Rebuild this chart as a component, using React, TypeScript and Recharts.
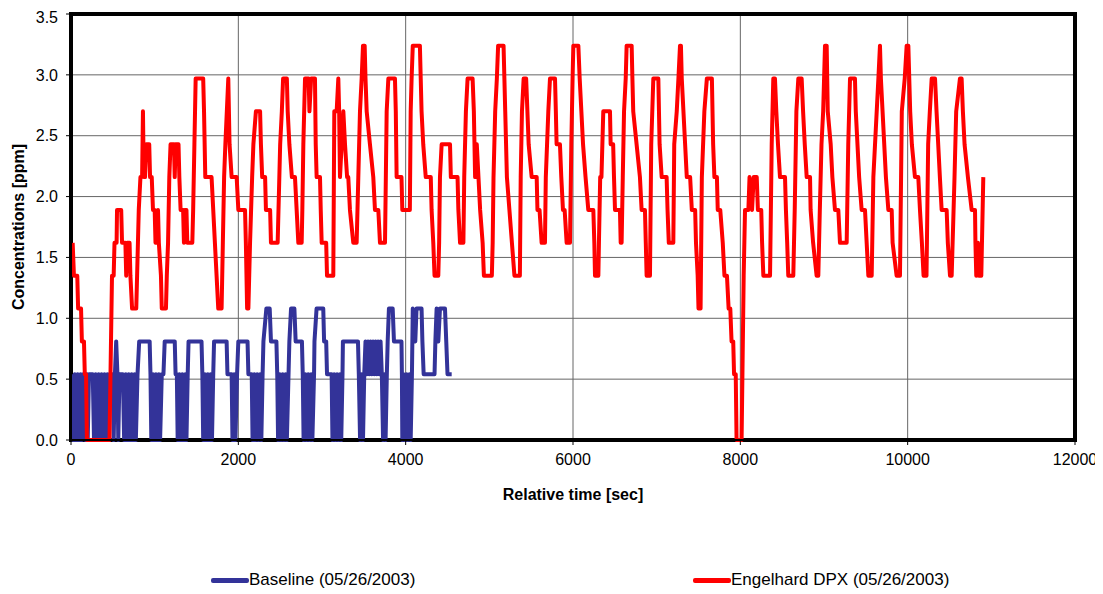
import React from "react";
import { LineChart, Line, XAxis, YAxis, CartesianGrid, ReferenceArea, Label } from "recharts";

const xTicks = [0, 2000, 4000, 6000, 8000, 10000, 12000];
const yTicks = [0, 0.5, 1, 1.5, 2, 2.5, 3, 3.5];

const baselineLabel = "Baseline (05/26/2003)";
const engelhardLabel = "Engelhard DPX (05/26/2003)";

// [relative time (sec), concentration (ppm)]
const baselineSeries: [number, number][] = [
  [10,0.54],[25,0],[45,0.54],[60,0],[80,0.54],[95,0],[115,0.54],[130,0],[145,0.54],[165,0.54],[175,0],[190,0.54],[200,0],[215,0.54],
  [260,0.54],[275,0],[295,0.54],[310,0],[330,0.54],[345,0],[365,0.54],[380,0],[400,0.54],[415,0],[435,0.54],[445,0],[460,0.54],
  [500,0.54],[510,0],[525,0.54],[540,0.81],[555,0.54],[565,0],[580,0.54],[620,0.54],[635,0],[655,0.54],[670,0],[690,0.54],[705,0],
  [725,0.54],[740,0],[760,0.54],[775,0],[795,0.54],[815,0.81],[940,0.81],[950,0.54],[960,0],[980,0.54],[995,0],[1015,0.54],[1030,0],
  [1050,0.54],[1065,0],[1085,0.54],[1105,0.54],[1120,0.81],[1240,0.81],[1250,0.54],[1265,0.54],[1275,0],[1295,0.54],[1310,0],
  [1330,0.54],[1345,0],[1365,0.54],[1380,0],[1395,0.54],[1405,0.81],[1560,0.81],[1570,0.54],[1580,0],[1600,0.54],[1615,0],
  [1635,0.54],[1650,0],[1670,0.54],[1685,0],[1700,0.54],[1710,0.81],[1860,0.81],[1870,0.54],[1920,0.54],[1930,0],[1950,0.54],
  [1965,0],[1985,0.54],[2000,0.81],[2110,0.81],[2120,0.54],[2160,0.54],[2170,0],[2190,0.54],[2205,0],[2225,0.54],[2240,0],
  [2260,0.54],[2275,0],[2290,0.54],[2300,0.81],[2335,1.08],[2375,1.08],[2390,0.81],[2455,0.81],[2465,0.54],[2475,0],[2495,0.54],
  [2510,0],[2530,0.54],[2545,0],[2565,0.54],[2580,0],[2600,0.54],[2610,0.81],[2630,1.08],[2670,1.08],[2685,0.81],[2760,0.81],
  [2770,0.54],[2780,0],[2800,0.54],[2815,0],[2835,0.54],[2850,0],[2870,0.54],[2885,0],[2905,0.54],[2910,0.81],[2935,1.08],
  [3015,1.08],[3025,0.81],[3050,0.81],[3060,0.54],[3115,0.54],[3125,0],[3145,0.54],[3160,0],[3180,0.54],[3195,0],[3215,0.54],
  [3230,0],[3245,0.54],[3250,0.81],[3430,0.81],[3440,0.54],[3455,0],[3475,0.54],[3490,0],[3505,0.54],[3520,0.81],[3535,0.54],
  [3550,0.81],[3565,0.54],[3580,0.81],[3595,0.54],[3610,0.81],[3625,0.54],[3640,0.81],[3655,0.54],[3670,0.81],[3685,0.54],
  [3700,0.81],[3715,0.54],[3730,0],[3745,0.54],[3760,0],[3775,0.54],[3785,0.81],[3800,1.08],[3845,1.08],[3860,0.81],[3950,0.81],
  [3955,0.54],[3960,0],[3975,0.54],[3990,0],[4010,0.54],[4025,0],[4045,0.54],[4060,0],[4075,0.54],[4085,1.08],[4115,0.81],
  [4130,1.08],[4190,1.08],[4200,0.81],[4215,0.54],[4345,0.54],[4355,0.81],[4370,1.08],[4390,0.81],[4410,1.08],[4470,1.08],
  [4485,0.81],[4500,0.54],[4550,0.54],
];

const engelhardSeries: [number, number][] = [
  [20,1.62],[35,1.35],[75,1.35],[85,1.08],[120,1.08],[130,0.81],[155,0.81],[165,0.54],[180,0.54],[190,0],[460,0],
  [490,1.35],[510,1.35],[520,1.62],[545,1.62],[550,1.89],[600,1.89],[610,1.62],[650,1.62],[660,1.35],[670,1.62],[700,1.62],
  [710,1.35],[730,1.08],[780,1.08],[790,1.35],[800,1.62],[810,1.89],[830,2.16],[850,2.16],[860,2.7],[870,2.16],[885,2.16],
  [900,2.43],[935,2.43],[945,2.16],[965,2.16],[980,1.89],[1000,1.89],[1010,1.62],[1030,1.62],[1040,1.89],[1050,1.62],[1075,1.35],
  [1085,1.08],[1135,1.08],[1145,1.35],[1160,1.62],[1175,2.16],[1190,2.43],[1230,2.43],[1240,2.16],[1250,2.43],[1285,2.43],
  [1295,2.16],[1310,1.89],[1340,1.89],[1350,1.62],[1360,1.89],[1380,1.89],[1390,1.62],[1450,1.62],[1460,1.89],[1475,2.43],
  [1490,2.97],[1580,2.97],[1590,2.7],[1605,2.16],[1680,2.16],[1700,1.89],[1720,1.62],[1740,1.35],[1760,1.08],[1800,1.08],
  [1815,1.62],[1830,2.16],[1845,2.43],[1880,2.97],[1895,2.43],[1920,2.16],[1980,2.16],[2000,1.89],[2080,1.89],[2090,1.62],
  [2105,1.08],[2120,1.08],[2140,1.62],[2165,2.16],[2180,2.43],[2210,2.7],[2260,2.7],[2270,2.43],[2285,2.16],[2320,2.16],
  [2330,1.89],[2380,1.89],[2390,1.62],[2470,1.62],[2480,1.89],[2500,2.43],[2520,2.7],[2535,2.97],[2580,2.97],[2590,2.7],
  [2610,2.43],[2640,2.16],[2677,2.16],[2697,1.89],[2717,1.62],[2757,1.62],[2765,1.89],[2777,2.43],[2797,2.97],[2840,2.97],
  [2850,2.7],[2870,2.97],[2916,2.97],[2925,2.43],[2936,2.16],[2976,2.16],[2985,1.89],[2996,1.62],[3050,1.62],[3060,1.35],
  [3135,1.35],[3147,2.7],[3175,2.7],[3195,2.97],[3205,2.7],[3215,2.16],[3235,2.43],[3255,2.7],[3275,2.43],[3300,2.16],
  [3314,2.16],[3334,1.89],[3374,1.62],[3414,1.62],[3434,2.16],[3454,2.7],[3474,2.97],[3490,3.24],[3510,3.24],[3520,2.97],
  [3534,2.7],[3573,2.43],[3613,2.16],[3633,1.89],[3673,1.89],[3693,1.62],[3753,1.62],[3773,2.7],[3793,2.97],[3872,2.97],
  [3882,2.7],[3892,2.16],[3950,2.16],[3960,1.89],[4050,1.89],[4060,2.7],[4071,2.97],[4085,3.24],[4170,3.24],[4180,2.97],
  [4190,2.7],[4210,2.43],[4240,2.16],[4300,2.16],[4310,1.89],[4330,1.62],[4345,1.35],[4390,1.35],[4400,1.62],[4410,2.16],
  [4430,2.43],[4530,2.43],[4540,2.16],[4620,2.16],[4630,1.89],[4650,1.62],[4690,1.62],[4700,2.16],[4720,2.7],[4740,2.97],
  [4800,2.97],[4815,2.7],[4830,2.16],[4850,2.43],[4870,2.16],[4890,1.89],[4920,1.62],[4935,1.35],[5030,1.35],[5040,1.62],
  [5050,2.16],[5070,2.7],[5090,2.97],[5105,3.24],[5170,3.24],[5180,2.97],[5190,2.7],[5210,2.16],[5240,1.89],[5270,1.62],
  [5300,1.35],[5365,1.35],[5375,2.16],[5390,2.7],[5410,2.97],[5440,2.97],[5455,2.7],[5470,2.43],[5506,2.16],[5566,2.16],
  [5575,1.89],[5600,1.89],[5625,1.62],[5665,1.62],[5675,2.16],[5705,2.7],[5725,2.97],[5785,2.97],[5795,2.7],[5804,2.43],
  [5844,2.43],[5860,2.16],[5880,1.89],[5900,1.89],[5924,1.62],[5964,1.62],[5980,2.43],[5995,2.97],[6004,3.24],[6064,3.24],
  [6080,2.97],[6100,2.7],[6120,2.43],[6150,2.16],[6183,1.89],[6243,1.89],[6255,1.62],[6263,1.35],[6303,1.35],[6310,1.62],
  [6325,2.16],[6340,2.16],[6362,2.7],[6442,2.7],[6450,2.43],[6480,2.43],[6490,2.16],[6502,1.89],[6561,1.89],[6570,1.62],
  [6581,1.62],[6595,2.16],[6610,2.7],[6630,2.97],[6641,3.24],[6701,3.24],[6710,2.97],[6720,2.7],[6760,2.43],[6800,2.16],
  [6820,1.89],[6860,1.89],[6870,1.62],[6880,1.35],[6920,1.35],[6935,2.43],[6960,2.97],[7020,2.97],[7035,2.43],[7060,2.16],
  [7119,2.16],[7130,1.89],[7145,1.62],[7199,1.62],[7210,2.43],[7240,2.7],[7260,2.97],[7279,3.24],[7290,3.24],[7300,2.97],
  [7320,2.7],[7340,2.43],[7360,2.16],[7400,2.16],[7420,1.89],[7460,1.89],[7470,1.62],[7490,1.35],[7500,1.08],[7525,1.08],
  [7540,2.16],[7570,2.7],[7600,2.97],[7660,2.97],[7675,2.43],[7690,2.16],[7720,2.16],[7730,1.89],[7760,1.89],[7790,1.62],
  [7810,1.35],[7840,1.35],[7860,1.08],[7880,1.08],[7895,0.81],[7915,0.81],[7925,0.54],[7945,0.54],[7955,0],[8015,0],
  [8040,1.35],[8056,1.89],[8096,1.89],[8110,2.16],[8140,1.89],[8160,2.16],[8196,2.16],[8210,1.89],[8250,1.89],[8260,1.62],
  [8275,1.35],[8355,1.35],[8365,1.89],[8375,2.43],[8394,2.97],[8414,2.97],[8430,2.7],[8450,2.43],[8474,2.16],[8534,2.16],
  [8545,1.89],[8560,1.62],[8573,1.35],[8633,1.35],[8650,1.89],[8670,2.7],[8693,2.97],[8733,2.97],[8750,2.7],[8770,2.43],
  [8793,2.16],[8833,2.16],[8840,1.89],[8870,1.62],[8912,1.35],[8932,1.35],[8950,1.89],[8970,2.43],[8990,2.7],[9012,3.24],
  [9032,3.24],[9045,2.7],[9080,2.43],[9100,2.16],[9131,1.89],[9171,1.89],[9191,1.62],[9271,1.62],[9290,2.43],[9311,2.97],
  [9370,2.97],[9380,2.7],[9420,2.16],[9450,1.89],[9490,1.89],[9510,1.62],[9530,1.35],[9570,1.35],[9590,2.16],[9630,2.7],
  [9650,2.97],[9669,3.24],[9680,2.97],[9700,2.7],[9740,2.16],[9769,1.89],[9809,1.89],[9820,1.62],[9868,1.35],[9908,1.35],
  [9930,2.7],[9965,2.97],[9988,3.24],[10008,3.24],[10030,2.7],[10050,2.43],[10087,2.16],[10127,2.16],[10147,1.89],[10170,1.62],
  [10190,1.35],[10225,1.35],[10245,2.43],[10265,2.7],[10287,2.97],[10327,2.97],[10345,2.7],[10365,2.43],[10385,2.16],
  [10406,1.89],[10466,1.89],[10480,1.62],[10506,1.35],[10526,1.35],[10560,2.16],[10580,2.7],[10625,2.97],[10645,2.97],
  [10660,2.7],[10680,2.43],[10720,2.16],[10765,1.89],[10805,1.89],[10810,1.62],[10820,1.35],[10840,1.62],[10850,1.35],
  [10880,1.35],[10904,2.16],
];

const BLUE = "#333399";
const RED = "#FF0000";
const FONT = "'Liberation Sans', Arial, sans-serif";

const toRows = (s: [number, number][]) => s.map(([t, v]) => ({ t, v }));

export default function App() {
  const blueRows = toRows(baselineSeries);
  const redRows = toRows(engelhardSeries);
  const tickStyle = { fontSize: 16, fill: "#000", fontFamily: FONT };
  return (
    <div style={{ position: "relative", width: 1095, height: 586, fontFamily: FONT }}>
      <LineChart width={1095} height={586} margin={{ top: 6, right: 28, left: 0, bottom: 94 }}>
        <CartesianGrid stroke="#666" strokeWidth={1} />
        <XAxis
          type="number"
          dataKey="t"
          domain={[0, 12000]}
          ticks={xTicks}
          allowDataOverflow
          height={60}
          tick={tickStyle}
          tickSize={5}
          tickMargin={9}
          axisLine={{ stroke: "#000", strokeWidth: 2 }}
          tickLine={{ stroke: "#000" }}
        >
          <Label value="Relative time [sec]" position="insideBottom" offset={0}
            style={{ fontSize: 16, fontWeight: "bold", fill: "#000", fontFamily: FONT }} />
        </XAxis>
        <YAxis
          type="number"
          domain={[0, 3.5]}
          ticks={yTicks}
          width={63}
          tick={tickStyle}
          tickSize={5}
          tickMargin={8}
          tickFormatter={(v: number) => v.toFixed(1)}
          axisLine={{ stroke: "#000", strokeWidth: 2 }}
          tickLine={{ stroke: "#000" }}
        >
          <Label value="Concentrations [ppm]" angle={-90} position="insideLeft" offset={10}
            style={{ fontSize: 16, fontWeight: "bold", fill: "#000", fontFamily: FONT, textAnchor: "middle" }} />
        </YAxis>
        <Line data={blueRows} dataKey="v" type="linear" stroke={BLUE} strokeWidth={4} dot={false}
          isAnimationActive={false} strokeLinejoin="round" name={baselineLabel} />
        <Line data={redRows} dataKey="v" type="linear" stroke={RED} strokeWidth={4} dot={false}
          isAnimationActive={false} strokeLinejoin="round" name={engelhardLabel} />
        <ReferenceArea x1={0} x2={12000} y1={0} y2={3.5} fill="none" stroke="#000" strokeWidth={4} ifOverflow="visible" />
      </LineChart>
      <div style={{ position: "absolute", left: 203, top: 562, display: "flex", alignItems: "center", fontSize: 17, color: "#000" }}>
        <span style={{ display: "inline-block", width: 38, height: 5, background: BLUE, borderRadius: 2 }} />
        <span>{baselineLabel}</span>
      </div>
      <div style={{ position: "absolute", left: 685, top: 562, display: "flex", alignItems: "center", fontSize: 17, color: "#000" }}>
        <span style={{ display: "inline-block", width: 38, height: 5, background: RED, borderRadius: 2 }} />
        <span>{engelhardLabel}</span>
      </div>
    </div>
  );
}
